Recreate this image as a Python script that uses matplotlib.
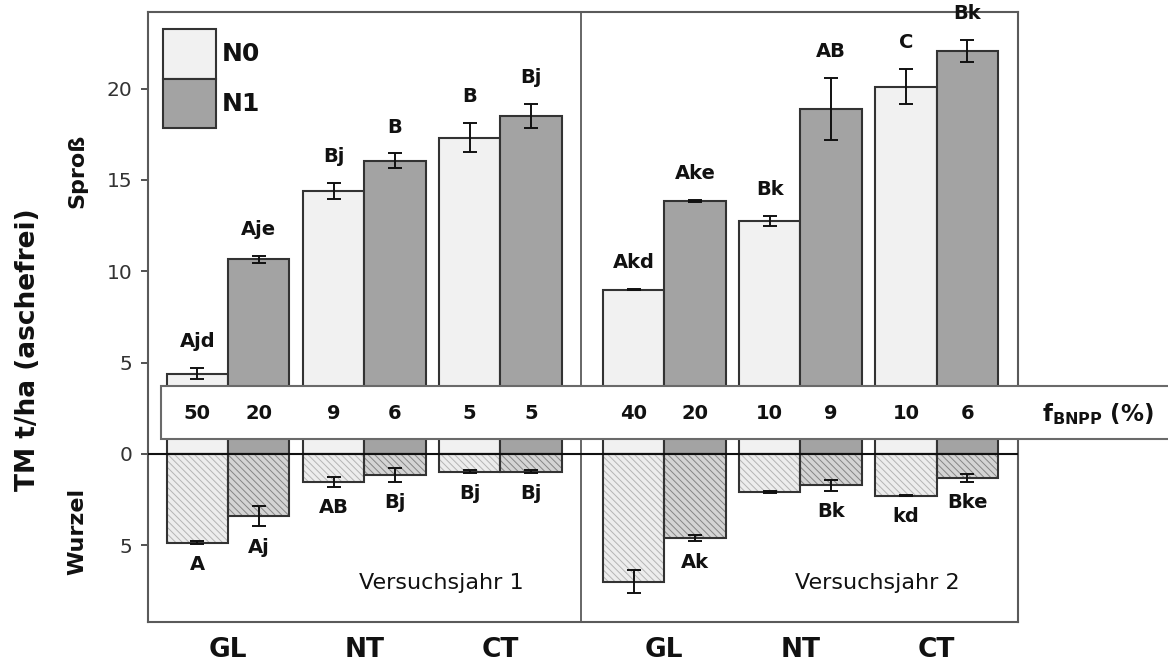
import numpy as np
import matplotlib
matplotlib.use('Agg')
import matplotlib.pyplot as plt
from matplotlib.patches import Rectangle

plt.rcParams['font.family'] = ['DejaVu Sans']
plt.rcParams['mathtext.default'] = 'regular'
plt.rcParams['hatch.linewidth'] = 0.7

# ------------------------------------------------------------
# DATA
# ------------------------------------------------------------
groups = ['GL', 'NT', 'CT']
years = ['Versuchsjahr 1', 'Versuchsjahr 2']

# shoot (Sproß), t/ha, order: Y1 GL, NT, CT, Y2 GL, NT, CT
shoot_n0     = [4.4, 14.4, 17.3, 9.0, 12.75, 20.1]
shoot_n0_err = [0.3, 0.45, 0.8, 0.05, 0.3, 0.95]
shoot_n1     = [10.65, 16.05, 18.5, 13.85, 18.9, 22.05]
shoot_n1_err = [0.2, 0.4, 0.65, 0.05, 1.7, 0.6]

# root (Wurzel), t/ha, plotted downwards
root_n0     = [4.85, 1.55, 0.97, 7.0, 2.08, 2.28]
root_n0_err = [0.08, 0.26, 0.07, 0.64, 0.05, 0.03]
root_n1     = [3.4, 1.15, 0.97, 4.62, 1.72, 1.31]
root_n1_err = [0.57, 0.37, 0.07, 0.17, 0.31, 0.23]

fbnpp_n0 = [50, 9, 5, 40, 10, 10]
fbnpp_n1 = [20, 6, 5, 20, 9, 6]

shoot_lab_n0 = ['Ajd', 'Bj', 'B', 'Akd', 'Bk', 'C']
shoot_lab_n1 = ['Aje', 'B', 'Bj', 'Ake', 'AB', 'Bk']
root_lab_n0 = ['A', 'AB', 'Bj', '', '', 'kd']
root_lab_n1 = ['Aj', 'Bj', 'Bj', 'Ak', 'Bk', 'Bke']

# ------------------------------------------------------------
# LAYOUT
# ------------------------------------------------------------
W = 1.0          # bar width
SPACING = 2.22   # between group centres within a year
YEAR_OFF = 7.11  # offset of second year
centers = np.array([y * YEAR_OFF + g * SPACING for y in range(2) for g in range(3)])
x0 = centers - W / 2
x1 = centers + W / 2

C_N0 = '#f1f1f1'
C_N1 = '#a3a3a3'
C_EDGE = '#333333'
C_FRAME = '#5a5a5a'

fig = plt.figure(figsize=(11.68, 6.64), dpi=100)
ax = fig.add_axes([0.1267, 0.0633, 0.7445, 0.9186])

# shoots
ax.bar(x0, shoot_n0, W, color=C_N0, edgecolor=C_EDGE, lw=1.5, zorder=2)
ax.bar(x1, shoot_n1, W, color=C_N1, edgecolor=C_EDGE, lw=1.5, zorder=2)
ax.errorbar(x0, shoot_n0, yerr=shoot_n0_err, fmt='none', ecolor='#111', elinewidth=1.4, capsize=5, capthick=1.4, zorder=3)
ax.errorbar(x1, shoot_n1, yerr=shoot_n1_err, fmt='none', ecolor='#111', elinewidth=1.4, capsize=5, capthick=1.4, zorder=3)

# roots (hatched, negative direction)
r0 = -np.array(root_n0)
r1 = -np.array(root_n1)
ax.bar(x0, r0, W, color='#ededed', edgecolor='#b4b4b4', hatch='\\\\\\\\\\', lw=0, zorder=2)
ax.bar(x1, r1, W, color='#d4d4d4', edgecolor='#858585', hatch='\\\\\\\\\\', lw=0, zorder=2)
ax.bar(x0, r0, W, color='none', edgecolor=C_EDGE, lw=1.5, zorder=2.5)
ax.bar(x1, r1, W, color='none', edgecolor=C_EDGE, lw=1.5, zorder=2.5)
ax.errorbar(x0, r0, yerr=root_n0_err, fmt='none', ecolor='#111', elinewidth=1.4, capsize=5, capthick=1.4, zorder=3)
ax.errorbar(x1, r1, yerr=root_n1_err, fmt='none', ecolor='#111', elinewidth=1.4, capsize=5, capthick=1.4, zorder=3)

# letters
lab_kw = dict(textcoords='offset points', ha='center', va='center', fontsize=14, fontweight='bold', color='#111')
for xs, vals, errs, labs in [(x0, shoot_n0, shoot_n0_err, shoot_lab_n0), (x1, shoot_n1, shoot_n1_err, shoot_lab_n1)]:
    for x, v, e, t in zip(xs, vals, errs, labs):
        ax.annotate(t, (x, v + e), xytext=(0, 19), **lab_kw)
for xs, vals, errs, labs in [(x0, r0, root_n0_err, root_lab_n0), (x1, r1, root_n1_err, root_lab_n1)]:
    for x, v, e, t in zip(xs, vals, errs, labs):
        if t:
            ax.annotate(t, (x, v - e), xytext=(0, -15), **lab_kw)

ax.axhline(0, color='#111', lw=1.5, zorder=4)
ax.axvline((centers[2] + centers[3]) / 2 - 0.02, color=C_FRAME, lw=1.3, zorder=1)

# f_BNPP strip
box_lo, box_hi = 0.8, 3.72
ax.add_patch(Rectangle((-1.098, box_lo), 20, box_hi - box_lo, facecolor='white',
                       edgecolor='#6a6a6a', lw=1.5, zorder=5, clip_on=False))
for xs, vals in [(x0, fbnpp_n0), (x1, fbnpp_n1)]:
    for x, v in zip(xs, vals):
        ax.text(x, 2.2, str(v), ha='center', va='center', fontsize=14, fontweight='bold', color='#111', zorder=6)
ax.text(13.27, 2.2, r'f$_{BNPP}$ (%)', ha='left', va='center', fontsize=16.5, fontweight='bold',
        color='#111', zorder=6, clip_on=False)

# year labels
for i, yr in enumerate(years):
    ax.text(i * YEAR_OFF + 3.47, -7.06, yr, ha='center', va='center', fontsize=16, color='#111', zorder=6)

# legend (drawn by hand)
for (yb, yt), col, name in [((0.890, 0.972), C_N0, 'N0'), ((0.810, 0.890), C_N1, 'N1')]:
    ax.add_patch(Rectangle((0.0173, yb), 0.061, yt - yb, transform=ax.transAxes,
                           facecolor=col, edgecolor=C_EDGE, lw=1.5, zorder=6))
    ax.text(0.085, (yb + yt) / 2, name, transform=ax.transAxes, ha='left', va='center',
            fontsize=18, fontweight='bold', color='#111', zorder=6)

# axes
ax.set_xlim(-1.305, 12.87)
ax.set_ylim(-9.2, 24.19)
ax.set_yticks([-5, 0, 5, 10, 15, 20])
ax.set_yticklabels(['5', '0', '5', '10', '15', '20'])
ax.tick_params(axis='y', length=5, width=1.2, pad=6, labelsize=14.5, colors='#333')
ax.set_xticks(centers)
ax.set_xticklabels(groups * 2, fontsize=19, fontweight='bold')
ax.tick_params(axis='x', length=0, pad=11, colors='#111')
for s in ax.spines.values():
    s.set_color(C_FRAME)
    s.set_linewidth(1.5)

fig.text(0.024, 0.474, 'TM t/ha (aschefrei)', rotation=90, ha='center', va='center',
         fontsize=19, fontweight='bold', color='#111')
fig.text(0.066, 0.7425, 'Sproß', rotation=90, ha='center', va='center', fontsize=16, fontweight='bold', color='#111')
fig.text(0.066, 0.199, 'Wurzel', rotation=90, ha='center', va='center', fontsize=16, fontweight='bold', color='#111')

fig.savefig('out.png', dpi=100)
